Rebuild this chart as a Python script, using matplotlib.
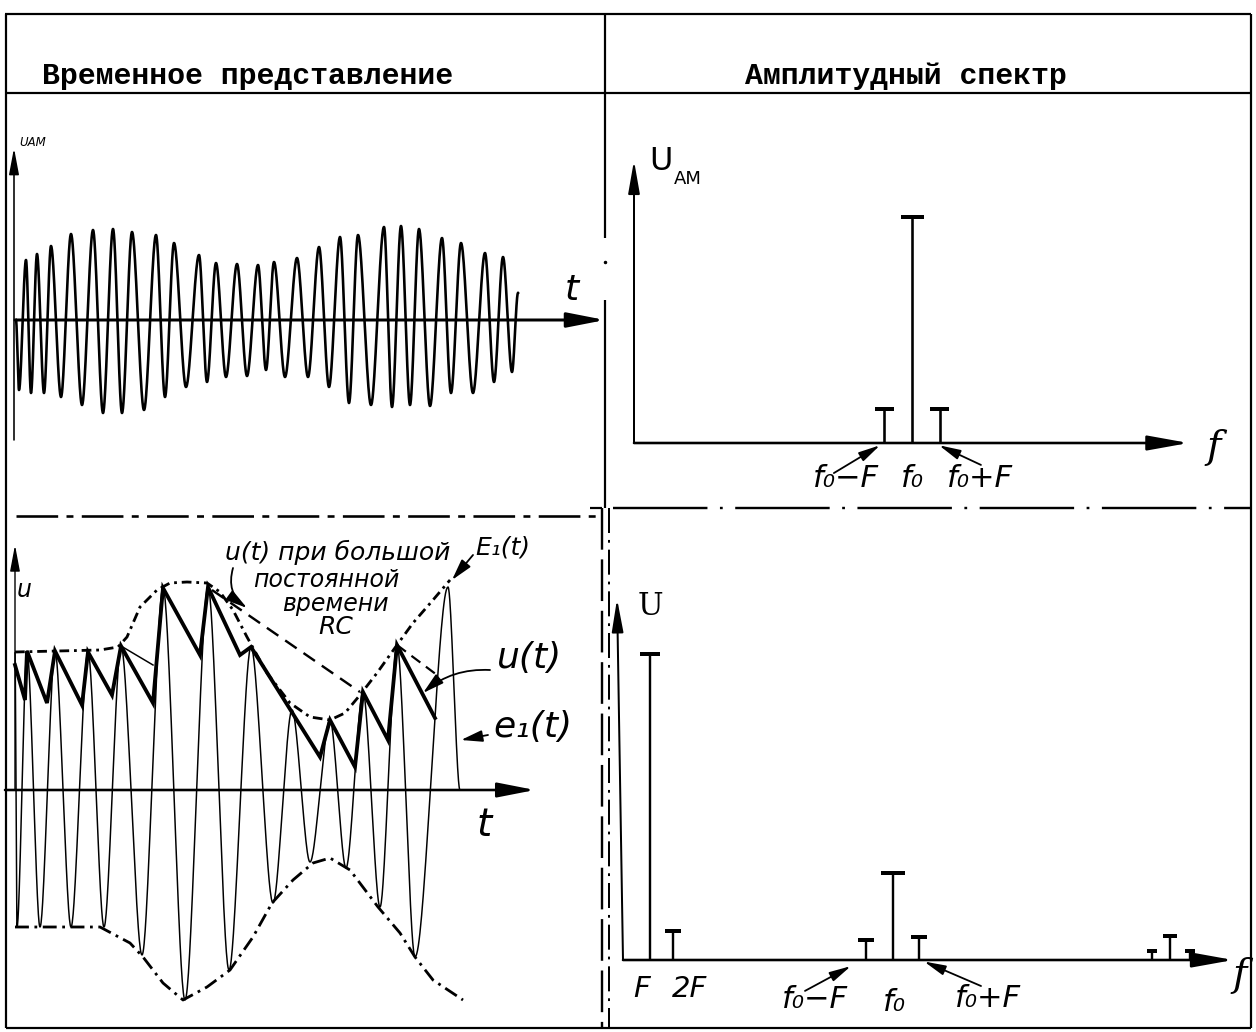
import numpy as np
import matplotlib
matplotlib.use("Agg")
import matplotlib.pyplot as plt

plt.rcParams["lines.scale_dashes"] = False
plt.rcParams["font.family"] = ["DejaVu Sans"]

W, H, DPI = 1256, 1032, 100
P = 0.72  # points per pixel

# ---------------- data ----------------
# Top-left: AM oscillation, successive extremes (time, amplitude), arbitrary units
am_t = [1, 4, 11, 16, 22, 29, 36, 46, 56, 67, 78, 88, 98, 107, 117, 129, 141, 150,
        159, 171, 184, 192, 201, 211, 222, 232, 243, 251, 259, 270, 282, 293, 304,
        314, 325, 334, 343, 356, 369, 377, 386, 395, 404, 415, 427, 436, 446, 458,
        470, 479, 488, 497, 503]
am_v = [0, -70, 60, -73, 66, -73, 74, -77, 86, -85, 90, -93, 91, -93, 88, -90, 85,
        -77, 77, -67, 65, -62, 57, -57, 56, -56, 55, -50, 58, -57, 62, -57, 73, -67,
        83, -83, 85, -85, 93, -87, 94, -85, 91, -86, 82, -73, 77, -73, 67, -62, 63,
        -52, 27]

# Bottom-left: e1(t) extremes
e1_t = [0, 2, 12, 25, 40, 56, 73, 89, 106, 127, 148, 170, 193, 214, 236, 258, 277,
        295, 315, 331, 348, 365, 382, 400, 433, 445]
e1_v = [137, -137, 139, -137, 139, -137, 138, -137, 144, -165, 202, -210, 203, -180,
        143, -113, 80, -72, 70, -78, 98, -117, 145, -167, 203, 0]
# Upper envelope E1(t)
envU_t = [0, 85, 103, 112, 125, 142, 155, 172, 192, 205, 218, 232, 252, 275, 295,
          315, 330, 345, 362, 382, 398, 418, 435]
envU_v = [138, 140, 143, 153, 183, 200, 207, 208, 207, 198, 180, 153, 117, 87, 73,
          70, 77, 95, 117, 145, 167, 190, 210]
# Lower envelope
envL_t = [0, 85, 115, 128, 148, 168, 192, 215, 238, 257, 278, 298, 315, 335, 363,
          385, 400, 418, 448]
envL_v = [-137, -137, -153, -167, -193, -210, -197, -180, -147, -113, -90, -73, -68,
          -80, -117, -143, -167, -190, -210]
# Detector output u(t) (sawtooth)
saw_t = [0, 10, 12, 32, 40, 67, 73, 97, 106, 138, 148, 185, 193, 225, 236, 305, 315,
         340, 348, 373, 382, 420]
saw_v = [125, 90, 139, 87, 139, 85, 138, 95, 144, 87, 202, 135, 203, 135, 143, 33,
         70, 23, 98, 50, 145, 72]
# u(t) with large RC
rc1_t, rc1_v = [197, 345], [200, 98]
rc2_t, rc2_v = [382, 422], [145, 115]
rc3_t, rc3_v = [106, 138], [144, 125]

# Top-right: AM spectrum (f0 = 10, F = 1)
am_f = [9.0, 10.0, 11.0]
am_a = [0.15, 1.0, 0.15]
am_lab = ["f₀−F", "f₀", "f₀+F"]

# Bottom-right: detector output spectrum
det_f = [1.0, 1.85, 9.0, 10.0, 10.95, 19.6, 20.25, 21.0]
det_a = [1.0, 0.095, 0.065, 0.285, 0.075, 0.03, 0.08, 0.03]


def wave(tk, vk, k=0.95, n=40):
    """Draw a pen-like oscillation through successive extremes."""
    xs, ys = [], []
    norm = np.arcsin(k)
    for i in range(len(tk) - 1):
        s = np.linspace(0, 1, n, endpoint=False)
        a, b = vk[i], vk[i + 1]
        g = np.arcsin(k * np.cos(np.pi * s)) / norm
        xs.append(tk[i] + s * (tk[i + 1] - tk[i]))
        ys.append((a + b) / 2 + (a - b) / 2 * g)
    xs.append([tk[-1]]); ys.append([vk[-1]])
    return np.concatenate(xs), np.concatenate(ys)


fig = plt.figure(figsize=(W / DPI, H / DPI), dpi=DPI)
fig.patch.set_facecolor("white")

bg = fig.add_axes([0, 0, 1, 1])
bg.set_xlim(0, W); bg.set_ylim(H, 0); bg.axis("off")


def panel(x0, y0, x1, y1, xo, yo, sx, sy):
    ax = fig.add_axes([x0 / W, 1 - y1 / H, (x1 - x0) / W, (y1 - y0) / H])
    ax.set_xlim((x0 - xo) / sx, (x1 - xo) / sx)
    ax.set_ylim((yo - y1) / sy, (yo - y0) / sy)
    ax.axis("off")
    ax.patch.set_alpha(0)
    return ax


def arrow(ax, x0, y0, x1, y1, lw=1.5, hl=2.0, hw=0.45, rad=0.0):
    ax.annotate("", xy=(x1, y1), xytext=(x0, y0), annotation_clip=False,
                arrowprops=dict(arrowstyle=f"-|>,head_length={hl},head_width={hw}",
                                lw=lw, color="k", shrinkA=0, shrinkB=0,
                                mutation_scale=10,
                                connectionstyle=f"arc3,rad={rad}"))


# ---------------- table frame ----------------
k = dict(color="k", lw=2.2 * P, solid_capstyle="butt")
bg.plot([5, 1251], [14, 14], **k)
bg.plot([5, 1251], [93, 93], **k)
bg.plot([6, 6], [14, 1028], **k)
bg.plot([1251, 1251], [14, 1028], **k)
bg.plot([6, 1251], [1028, 1028], **k)
bg.plot([605, 605], [14, 238], **k)
bg.plot([605], [262], "k.", ms=3)
bg.plot([605, 605], [300, 508], **k)
bg.plot([16, 602], [516, 516], color="k", lw=2.6 * P, dashes=(30, 6, 5, 6))
bg.plot([613, 1251], [508, 508], color="k", lw=2.4 * P, dashes=(68, 9, 2, 9))
bg.plot([590, 602], [508, 508], **k)
bg.plot([602, 602], [508, 1028], color="k", lw=2.4 * P, dashes=(30, 7))
bg.plot([609, 609], [508, 1028], color="k", lw=2.0 * P, dashes=(18, 5, 2, 5))

tf = dict(family="Liberation Mono", fontweight="bold", fontsize=21.5,
          ha="center", va="baseline")
bg.text(248, 84, "Временное представление", **tf)
bg.text(906, 84, "Амплитудный спектр", **tf)

hand = dict(family="DejaVu Sans", style="italic")

# ---------------- top-left: time domain AM ----------------
a1 = panel(5, 93, 605, 512, 15, 320, 1, 1)
arrow(a1, -1, -120, -1, 172, lw=1.6 * P, hl=1.6, hw=0.3)
arrow(a1, 0, 0, 590, 0, lw=3 * P, hl=2.3, hw=0.45)
x, y = wave(am_t, am_v, k=0.6)
a1.plot(x, y, color="k", lw=2.6 * P, clip_on=False)
a1.text(4, 177, "UAM", fontsize=8.5, ha="left", va="center", **hand)
a1.text(557, 30, "t", fontsize=26, ha="center", va="center", **hand)

# ---------------- bottom-left: detector ----------------
a2 = panel(5, 512, 605, 1028, 15, 790, 1, 1)
arrow(a2, 0, 0, 0, 245, lw=1.4 * P, hl=1.6, hw=0.3)
arrow(a2, -10, 0, 520, 0, lw=2.6 * P, hl=2.3, hw=0.45)
x, y = wave(e1_t, e1_v, k=0.7)
a2.plot(x, y, color="k", lw=1.5 * P, clip_on=False)
a2.plot(envU_t, envU_v, color="k", lw=2.8 * P, dashes=(7, 3.5, 2, 3.5))
a2.plot(envL_t, envL_v, color="k", lw=2.8 * P, dashes=(10, 4, 2, 4))
a2.plot(saw_t, saw_v, color="k", lw=3.8 * P, solid_joinstyle="miter")
a2.plot(rc1_t, rc1_v, color="k", lw=2.4 * P, dashes=(10, 6))
a2.plot(rc2_t, rc2_v, color="k", lw=2.2 * P, dashes=(8, 5))
a2.plot(rc3_t, rc3_v, color="k", lw=1.5 * P)
a2.text(9, 200, "u", fontsize=17, ha="center", va="center", **hand)
a2.text(469, -35, "t", fontsize=28, ha="center", va="center", **hand)
a2.text(323, 238, "u(t) при большой", fontsize=18, ha="center", va="center", **hand)
a2.text(311, 210, "постоянной", fontsize=17, ha="center", va="center", **hand)
a2.text(320, 186, "времени", fontsize=17, ha="center", va="center", **hand)
a2.text(321, 163, "RC", fontsize=18, ha="center", va="center", **hand)
a2.text(488, 243, "E₁(t)", fontsize=18, ha="center", va="center", **hand)
a2.text(515, 132, "u(t)", fontsize=26, ha="center", va="center", **hand)
a2.text(518, 63, "e₁(t)", fontsize=26, ha="center", va="center", **hand)
arrow(a2, 218, 222, 232, 182, lw=1.8 * P, hl=1.3, hw=0.35, rad=0.35)
arrow(a2, 458, 235, 437, 210, lw=1.8 * P, hl=1.3, hw=0.35)
arrow(a2, 475, 120, 408, 97, lw=1.8 * P, hl=1.3, hw=0.35, rad=0.2)
arrow(a2, 473, 55, 446, 50, lw=1.8 * P, hl=1.3, hw=0.35)

# ---------------- top-right: AM spectrum ----------------
sx3, sy3 = 27.8, 226
a3 = panel(605, 93, 1251, 508, 634, 443, sx3, sy3)
arrow(a3, 0, 0, 0, 1.25, lw=2 * P, hl=2.0, hw=0.35)
arrow(a3, 0, 0, 19.95, 0, lw=2.6 * P, hl=2.5, hw=0.45)
a3.vlines(am_f, 0, am_a, color="k", lw=2.6 * P)
capw = [19, 23, 19]
for f, a, c in zip(am_f, am_a, capw):
    a3.hlines(a, f - c / 2 / sx3, f + c / 2 / sx3, color="k", lw=4 * P)
lab_x = [7.63, 10.0, 12.45]
for lx, s in zip(lab_x, am_lab):
    a3.text(lx, -0.155, s, fontsize=22, ha="center", va="center", **hand)
arrow(a3, 7.19, -0.133, 8.85, -0.01, lw=1.8 * P, hl=1.3, hw=0.3)
arrow(a3, 12.48, -0.097, 10.97, -0.01, lw=1.8 * P, hl=1.3, hw=0.3)
a3.text(20.85, -0.02, "f", fontsize=28, ha="center", va="center",
        family="DejaVu Serif", style="italic")
a3.text(0.55, 1.245, "U", fontsize=23, ha="left", va="center")
a3.text(1.45, 1.17, "AM", fontsize=13, ha="left", va="center")

# ---------------- bottom-right: detector spectrum ----------------
sx4, sy4 = 27, 306
a4 = panel(610, 508, 1251, 1028, 623, 960, sx4, sy4)
arrow(a4, 0, 0, -0.22, 1.18, lw=2 * P, hl=2.0, hw=0.35)
arrow(a4, 0, 0, 22.6, 0, lw=2.6 * P, hl=2.5, hw=0.45)
a4.vlines(det_f, 0, det_a, color="k", lw=2.4 * P)
capw4 = [20, 16, 16, 24, 16, 10, 14, 10]
for f, a, c in zip(det_f, det_a, capw4):
    a4.hlines(a, f - c / 2 / sx4, f + c / 2 / sx4, color="k", lw=4 * P)
a4.text(1.0, 1.155, "U", fontsize=22, ha="center", va="center", family="DejaVu Serif")
a4.text(0.7, -0.095, "F", fontsize=21, ha="center", va="center", **hand)
a4.text(2.45, -0.095, "2F", fontsize=21, ha="center", va="center", **hand)
a4.text(7.1, -0.13, "f₀−F", fontsize=22, ha="center", va="center", **hand)
a4.text(10.07, -0.14, "f₀", fontsize=22, ha="center", va="center", **hand)
a4.text(13.5, -0.125, "f₀+F", fontsize=22, ha="center", va="center", **hand)
arrow(a4, 6.74, -0.101, 8.44, -0.02, lw=1.8 * P, hl=1.3, hw=0.3)
arrow(a4, 13.26, -0.085, 11.15, -0.005, lw=1.8 * P, hl=1.3, hw=0.3)
a4.text(22.85, -0.05, "f", fontsize=28, ha="center", va="center",
        family="DejaVu Serif", style="italic")

fig.savefig("out.png", dpi=DPI, facecolor="white")
